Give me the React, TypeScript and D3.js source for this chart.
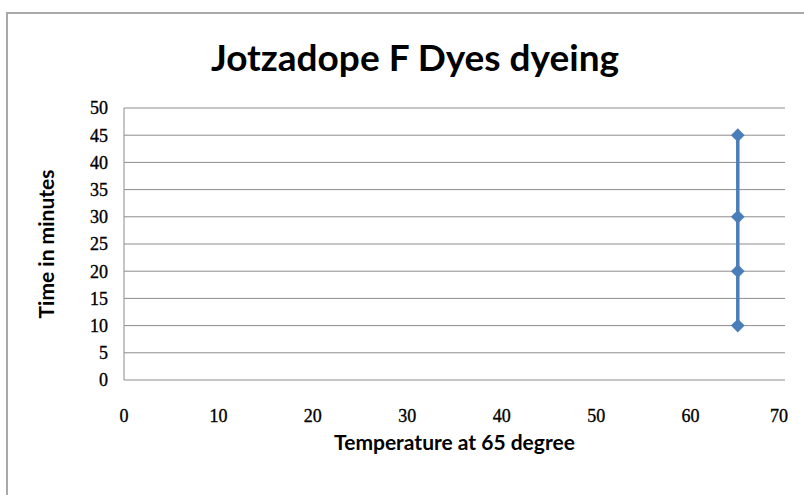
import { useEffect, useRef } from "react";
import * as d3 from "d3";

const title = "Jotzadope F Dyes dyeing";
const xTitle = "Temperature at 65 degree";
const yTitle = "Time in minutes";

const xTicks = [0, 10, 20, 30, 40, 50, 60, 70];
const yTicks = [0, 5, 10, 15, 20, 25, 30, 35, 40, 45, 50];

const temps = [65, 65, 65, 65];
const times = [10, 20, 30, 45];

const W = 804;
const H = 495;

export default function App() {
  const svgRef = useRef<SVGSVGElement>(null);

  useEffect(() => {
    if (!svgRef.current) return;
    const svg = d3.select(svgRef.current);
    svg.selectAll("*").remove();

    const plot = { left: 124, right: 785, top: 108, bottom: 380 };
    const x = d3.scaleLinear().domain([0, 70]).range([plot.left, plot.right]);
    const y = d3.scaleLinear().domain([0, 50]).range([plot.bottom, plot.top]);

    svg.append("rect").attr("width", W).attr("height", H).attr("fill", "#fff");

    // chart area border (runs off the right and bottom)
    svg
      .append("rect")
      .attr("x", 7)
      .attr("y", 13)
      .attr("width", W + 20)
      .attr("height", H + 20)
      .attr("fill", "none")
      .attr("stroke", "#a9a9a9")
      .attr("stroke-width", 2);

    const sans = "Lato, 'Open Sans', sans-serif";

    svg
      .append("text")
      .attr("x", 415)
      .attr("y", 71)
      .attr("text-anchor", "middle")
      .attr("font-family", sans)
      .attr("font-weight", "bold")
      .attr("font-size", "37px")
      .attr("fill", "#000")
      .text(title);

    // gridlines
    svg
      .append("g")
      .selectAll("line")
      .data(yTicks.filter((t) => t > 0))
      .enter()
      .append("line")
      .attr("x1", plot.left)
      .attr("x2", plot.right)
      .attr("y1", (d) => y(d))
      .attr("y2", (d) => y(d))
      .attr("stroke", "#8c8c8c")
      .attr("stroke-width", 1);

    // axes lines
    svg
      .append("line")
      .attr("x1", plot.left)
      .attr("x2", plot.left)
      .attr("y1", plot.top)
      .attr("y2", plot.bottom)
      .attr("stroke", "#8c8c8c");
    svg
      .append("line")
      .attr("x1", plot.left)
      .attr("x2", plot.right)
      .attr("y1", plot.bottom)
      .attr("y2", plot.bottom)
      .attr("stroke", "#8c8c8c");

    const tickFont = "'Liberation Serif', 'DejaVu Serif', serif";

    svg
      .append("g")
      .selectAll("text")
      .data(yTicks)
      .enter()
      .append("text")
      .attr("x", plot.left - 16)
      .attr("y", (d) => y(d))
      .attr("dy", "0.35em")
      .attr("text-anchor", "end")
      .attr("font-family", tickFont)
      .attr("font-size", "18px")
      .attr("fill", "#000")
      .attr("stroke", "#000")
      .attr("stroke-width", 0.35)
      .text((d) => d);

    svg
      .append("g")
      .selectAll("text")
      .data(xTicks)
      .enter()
      .append("text")
      .attr("x", (d) => (d === 70 ? x(d) - 6 : x(d)))
      .attr("y", 422)
      .attr("text-anchor", "middle")
      .attr("font-family", tickFont)
      .attr("font-size", "18px")
      .attr("fill", "#000")
      .attr("stroke", "#000")
      .attr("stroke-width", 0.35)
      .text((d) => d);

    svg
      .append("text")
      .attr("x", (plot.left + plot.right) / 2)
      .attr("y", 450)
      .attr("text-anchor", "middle")
      .attr("font-family", sans)
      .attr("font-weight", "bold")
      .attr("font-size", "21px")
      .attr("fill", "#000")
      .text(xTitle);

    svg
      .append("text")
      .attr("transform", `translate(54,${(plot.top + plot.bottom) / 2}) rotate(-90)`)
      .attr("text-anchor", "middle")
      .attr("font-family", sans)
      .attr("font-weight", "bold")
      .attr("font-size", "21px")
      .attr("fill", "#000")
      .text(yTitle);

    const pts = temps.map((t, i) => [t, times[i]] as [number, number]);

    svg
      .append("path")
      .datum(pts)
      .attr("fill", "none")
      .attr("stroke", "#4a7ebb")
      .attr("stroke-width", 3.5)
      .attr(
        "d",
        d3
          .line<[number, number]>()
          .x((d) => x(d[0]))
          .y((d) => y(d[1]))
      );

    const diamond = d3.symbol().type(d3.symbolDiamond2).size(120);
    svg
      .append("g")
      .selectAll("path")
      .data(pts)
      .enter()
      .append("path")
      .attr("transform", (d) => `translate(${x(d[0])},${y(d[1])})`)
      .attr("d", diamond()!)
      .attr("fill", "#4a7ebb");
  }, []);

  return (
    <svg
      ref={svgRef}
      width={W}
      height={H}
      style={{ position: "absolute", left: 0, top: 0 }}
    />
  );
}
